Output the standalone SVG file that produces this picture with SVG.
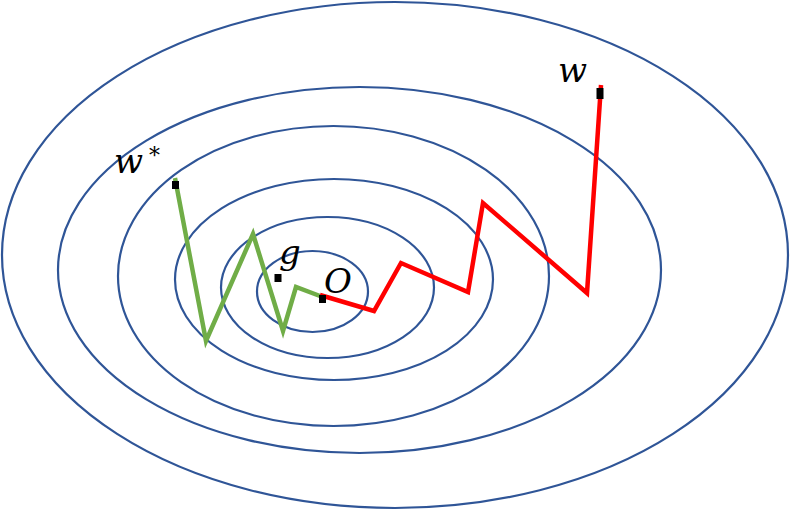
<svg xmlns="http://www.w3.org/2000/svg" width="790" height="510" viewBox="0 0 790 510">
<style>
.c{fill:none;stroke:#2F5597;stroke-width:2.2}
.g{fill:none;stroke:#70AD47;stroke-width:4.5;stroke-linejoin:miter}
.r{fill:none;stroke:#FF0000;stroke-width:4.5;stroke-linejoin:miter}
.m{fill:#000}
.t{font-family:"DejaVu Serif","Liberation Serif",serif;font-style:italic;font-size:34px;fill:#000}
</style>
<rect width="790" height="510" fill="#fff"/>
<g id="contours">
<ellipse class="c" cx="395" cy="255" rx="393" ry="253"/>
<ellipse class="c" cx="359.5" cy="270" rx="301.5" ry="183"/>
<ellipse class="c" cx="333.5" cy="276" rx="215.5" ry="150"/>
<ellipse class="c" cx="334" cy="279.5" rx="159" ry="100.5"/>
<ellipse class="c" cx="327.5" cy="287.5" rx="106.5" ry="70.5"/>
<ellipse class="c" cx="312.5" cy="291.5" rx="55.5" ry="40.5"/>
</g>
<g id="connectors">
<polyline class="g" points="175,178 206,341 253,234 283,331 296,287 320,296"/>
<polyline class="r" points="320,295 374,311 401,263 468,292 483,203 587,293 601,85"/>
</g>
<g id="node-wstar">
<rect class="m" x="172" y="181" width="7" height="8"/>
<text class="t" x="114" y="173">w</text>
<text class="t" x="149" y="163" style="font-size:22px">*</text>
</g>
<g id="node-g">
<rect class="m" x="274.5" y="274" width="7" height="8"/>
<text class="t" x="279" y="264">g</text>
</g>
<g id="node-O">
<rect class="m" x="319" y="295" width="7" height="8"/>
<text class="t" x="324" y="293">O</text>
</g>
<g id="node-w">
<rect class="m" x="596.5" y="88" width="7" height="11"/>
<text class="t" x="558" y="82">w</text>
</g>
</svg>
